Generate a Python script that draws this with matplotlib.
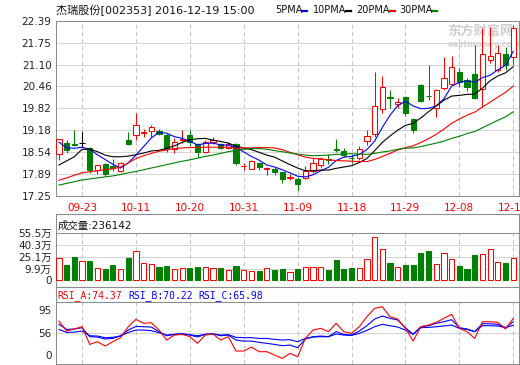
import numpy as np
import matplotlib.pyplot as plt
from matplotlib.lines import Line2D

plt.rcParams['font.family'] = ['DejaVu Sans', 'Noto Sans CJK SC']

# 交易日
dates = ['09-20', '09-21', '09-22', '09-23', '09-26', '09-27', '09-28', '09-29', '09-30',
         '10-10', '10-11', '10-12', '10-13', '10-14', '10-17', '10-18', '10-19', '10-20',
         '10-21', '10-24', '10-25', '10-26', '10-27', '10-28', '10-31', '11-01', '11-02',
         '11-03', '11-04', '11-07', '11-08', '11-09', '11-10', '11-11', '11-14', '11-15',
         '11-16', '11-17', '11-18', '11-21', '11-22', '11-23', '11-24', '11-25', '11-28',
         '11-29', '11-30', '12-01', '12-02', '12-05', '12-06', '12-07', '12-08', '12-09',
         '12-12', '12-13', '12-14', '12-15', '12-16', '12-19']

opens = [18.48, 18.81, 18.77, 18.81, 18.65, 18.01, 18.19, 18.13, 17.99, 18.89,
         19.04, 19.11, 19.16, 19.17, 19.04, 18.63, 18.88, 19.04, 18.77, 18.55,
         18.82, 18.77, 18.66, 18.77, 18.12, 18.05, 18.23, 18.05, 18.03, 17.94,
         17.79, 17.74, 17.79, 17.97, 18.15, 18.34, 18.63, 18.57, 18.37, 18.36,
         18.85, 19.06, 19.79, 20.16, 19.94, 20.16, 19.52, 20.49, 20.19, 19.82,
         20.41, 20.52, 20.88, 20.65, 20.84, 20.40, 21.23, 20.94, 21.40, 21.33]
highs = [18.92, 18.89, 19.18, 19.17, 18.68, 18.17, 18.23, 18.33, 18.26, 19.14,
         19.69, 19.21, 19.32, 19.21, 19.06, 18.94, 19.18, 19.18, 18.80, 18.90,
         18.97, 18.80, 18.82, 18.80, 18.23, 18.30, 18.24, 18.11, 18.09, 17.96,
         17.90, 17.82, 18.13, 18.36, 18.40, 18.47, 18.92, 18.66, 18.49, 18.72,
         19.18, 20.89, 20.76, 20.36, 20.13, 20.18, 19.55, 20.52, 21.09, 20.38,
         21.33, 21.35, 20.99, 20.70, 21.68, 22.18, 22.21, 21.68, 21.63, 22.26]
lows = [18.31, 18.50, 18.72, 18.68, 17.93, 17.89, 17.85, 17.99, 17.96, 18.74,
        18.89, 18.99, 18.97, 19.03, 18.55, 18.52, 18.79, 18.71, 18.40, 18.50,
        18.78, 18.62, 18.62, 18.16, 18.01, 18.03, 18.01, 17.86, 17.88, 17.64,
        17.73, 17.40, 17.74, 17.92, 18.06, 18.19, 18.53, 18.40, 18.21, 18.30,
        18.75, 18.99, 19.68, 19.82, 19.82, 19.60, 19.09, 20.02, 20.07, 19.58,
        20.36, 20.49, 20.46, 20.33, 20.10, 19.87, 21.14, 20.90, 20.94, 21.09]
closes = [18.91, 18.60, 18.75, 18.81, 18.01, 18.15, 17.89, 18.06, 18.22, 18.77,
          19.33, 19.13, 19.28, 19.07, 18.62, 18.84, 18.91, 18.82, 18.55, 18.82,
          18.90, 18.65, 18.78, 18.22, 18.14, 18.28, 18.09, 18.07, 17.94, 17.74,
          17.81, 17.60, 17.98, 18.23, 18.33, 18.32, 18.61, 18.44, 18.35, 18.62,
          19.01, 19.89, 20.44, 20.13, 20.02, 19.68, 19.19, 20.05, 20.17, 20.36,
          20.71, 21.04, 20.60, 20.45, 20.12, 21.40, 21.36, 21.44, 21.09, 22.17]

ma5 = [18.83, 18.66, 18.65, 18.68, 18.62, 18.46, 18.32, 18.18, 18.07, 18.22,
       18.45, 18.70, 18.95, 19.12, 19.09, 18.99, 18.94, 18.85, 18.75, 18.79,
       18.80, 18.75, 18.74, 18.67, 18.54, 18.41, 18.30, 18.16, 18.10, 18.02,
       17.93, 17.83, 17.81, 17.87, 17.99, 18.09, 18.29, 18.39, 18.41, 18.47,
       18.61, 18.86, 19.26, 19.62, 19.90, 20.03, 19.89, 19.81, 19.82, 19.89,
       20.10, 20.47, 20.58, 20.63, 20.58, 20.72, 20.79, 20.95, 21.08, 21.49]
ma10 = [18.16, 18.28, 18.40, 18.62, 18.62, 18.55, 18.45, 18.40, 18.40, 18.42,
        18.46, 18.51, 18.57, 18.59, 18.65, 18.72, 18.82, 18.90, 18.93, 18.94,
        18.89, 18.85, 18.80, 18.71, 18.66, 18.61, 18.53, 18.45, 18.39, 18.28,
        18.17, 18.07, 17.99, 17.99, 18.01, 18.01, 18.06, 18.10, 18.14, 18.23,
        18.35, 18.58, 18.82, 19.01, 19.18, 19.32, 19.38, 19.54, 19.72, 19.89,
        20.06, 20.18, 20.20, 20.23, 20.24, 20.41, 20.63, 20.77, 20.86, 21.04]
ma20 = [17.71, 17.78, 17.86, 17.93, 17.96, 17.99, 18.02, 18.05, 18.10, 18.22,
        18.35, 18.43, 18.50, 18.56, 18.60, 18.64, 18.66, 18.67, 18.67, 18.68,
        18.68, 18.68, 18.68, 18.65, 18.66, 18.66, 18.67, 18.67, 18.66, 18.61,
        18.53, 18.46, 18.39, 18.35, 18.34, 18.31, 18.29, 18.28, 18.27, 18.26,
        18.26, 18.32, 18.41, 18.50, 18.60, 18.67, 18.72, 18.82, 18.93, 19.06,
        19.21, 19.38, 19.51, 19.62, 19.71, 19.86, 20.00, 20.15, 20.29, 20.47]
ma30 = [17.57, 17.62, 17.67, 17.72, 17.75, 17.78, 17.81, 17.84, 17.88, 17.93,
        17.97, 18.02, 18.07, 18.12, 18.17, 18.22, 18.27, 18.31, 18.36, 18.41,
        18.45, 18.50, 18.55, 18.59, 18.62, 18.64, 18.64, 18.62, 18.58, 18.55,
        18.51, 18.48, 18.45, 18.43, 18.44, 18.45, 18.47, 18.48, 18.49, 18.48,
        18.47, 18.50, 18.54, 18.57, 18.62, 18.65, 18.66, 18.70, 18.75, 18.80,
        18.86, 18.94, 19.00, 19.08, 19.14, 19.25, 19.36, 19.47, 19.57, 19.72]

# 成交量 (万)
volume = [23.7, 15.3, 24.9, 20.3, 20.3, 11.2, 10.3, 15.3, 9.9, 23.7,
          32.4, 17.4, 16.6, 13.3, 14.1, 9.9, 11.2, 11.2, 12.4, 12.4,
          11.2, 11.2, 9.1, 14.1, 9.1, 7.8, 7.8, 11.2, 9.1, 9.9,
          7.0, 9.9, 12.4, 13.3, 12.4, 9.1, 21.5, 9.9, 11.2, 11.2,
          22.4, 49.8, 34.9, 17.4, 13.3, 15.3, 15.3, 29.9, 32.7, 16.2,
          29.9, 22.4, 14.1, 9.9, 27.8, 28.6, 34.9, 19.4, 17.4, 23.6]

rsi_a = [71.1, 58.8, 61.3, 64.1, 42.3, 45.6, 40.3, 45.6, 50.6, 64.1,
         73.2, 68.3, 69.1, 60.0, 47.7, 53.8, 54.7, 51.8, 43.6, 53.8,
         55.1, 47.7, 51.8, 34.1, 34.1, 39.0, 33.3, 33.3, 29.2, 25.0,
         31.2, 27.1, 49.7, 60.0, 62.1, 58.0, 68.3, 58.0, 55.9, 64.1,
         76.5, 86.8, 88.8, 76.5, 73.6, 62.1, 46.4, 64.1, 66.2, 69.5,
         74.4, 79.4, 62.1, 58.0, 49.7, 70.3, 70.3, 69.5, 61.3, 74.37]
rsi_b = [67.0, 60.8, 61.3, 62.9, 51.8, 51.4, 48.9, 49.7, 53.0, 60.0,
         64.5, 64.1, 63.7, 58.0, 53.0, 54.7, 55.5, 53.8, 51.4, 54.7,
         55.5, 53.0, 53.8, 47.7, 46.4, 46.4, 44.8, 43.6, 42.3, 40.7,
         41.5, 38.2, 48.9, 51.8, 52.6, 51.8, 58.0, 54.7, 53.8, 58.8,
         65.4, 73.6, 77.3, 74.4, 72.4, 62.9, 54.7, 64.1, 65.4, 68.3,
         70.3, 72.8, 62.9, 61.3, 58.0, 67.8, 67.8, 67.0, 62.9, 70.22]
rsi_c = [60.8, 57.1, 57.5, 58.8, 53.0, 52.6, 50.6, 51.0, 52.6, 57.1,
         60.0, 60.0, 59.2, 56.7, 53.8, 54.7, 55.1, 54.3, 53.0, 54.7,
         55.1, 53.8, 54.3, 51.0, 50.6, 50.6, 49.7, 49.7, 48.5, 47.7,
         48.1, 45.6, 49.7, 51.4, 51.8, 51.8, 55.1, 53.8, 53.4, 55.9,
         59.6, 64.1, 67.0, 65.4, 63.7, 60.0, 54.7, 62.9, 63.3, 64.1,
         65.0, 66.2, 62.1, 60.8, 58.0, 65.4, 65.4, 65.0, 62.9, 65.98]

price_ticks = ['17.25', '17.89', '18.54', '19.18', '19.82', '20.46', '21.10', '21.75', '22.39']
vol_ticks = [9.9, 25.1, 40.3, 55.5]

RED = '#ff0000'
GREEN = '#008000'
BORDER = '#8c8c8c'
GRID = '#d4d4d4'
W, H = 520, 365


def box(x0, y0, x1, y1):
    return [x0 / W, 1 - y1 / H, (x1 - x0) / W, (y1 - y0) / H]


fig = plt.figure(figsize=(W / 100, H / 100), dpi=100)
ax = fig.add_axes(box(55.7, 20.7, 519, 196))
axv = fig.add_axes(box(55.7, 214, 519, 287.3))
axr = fig.add_axes(box(55.7, 287.3, 519, 364.3))

x = np.arange(len(dates))
o = np.array(opens)
c = np.array(closes)
tick_idx = x[3::7]

for a in (ax, axv, axr):
    a.set_xlim(-0.42, 59.75)
    for s in a.spines.values():
        s.set_color(BORDER)
        s.set_linewidth(0.75)
    a.tick_params(length=0, labelsize=7.5, labelcolor='#222222', pad=3)

# ---- K线 ----
cols = np.where(c > o, RED, np.where(c < o, GREEN, '#000000'))
faces = np.where(c > o, 'white', cols)
ax.vlines(x, lows, highs, colors=cols, lw=0.75, zorder=2)
ax.bar(x, np.abs(c - o), bottom=np.minimum(o, c), width=0.68, color=faces,
       edgecolor=cols, linewidth=0.75, zorder=3)
ax.plot(x, ma5, color='#0000ff', lw=0.8, zorder=4)
ax.plot(x, ma10, color='black', lw=0.8, zorder=4)
ax.plot(x, ma20, color=RED, lw=0.8, zorder=4)
ax.plot(x, ma30, color=GREEN, lw=0.8, zorder=4)
ax.set_ylim(17.25, 22.39)
ax.set_yticks(np.linspace(17.25, 22.39, 9), price_ticks)
ax.set_xticks(tick_idx, [dates[i] for i in tick_idx])
ax.tick_params(axis='x', labelcolor=RED, pad=5)
ax.grid(axis='y', color=GRID, lw=0.75, zorder=0)
ax.grid(axis='x', color='#c4c4c4', lw=0.75, ls=(0, (4, 3)), zorder=0)
ax.text(0.845, 0.945, '东方财富网', transform=ax.transAxes, fontsize=9.5,
        fontweight='bold', color='#cfcfcf', ha='left', va='center',
        family=['Noto Sans CJK SC'], zorder=1)
ax.text(0.845, 0.865, 'eastmoney.com', transform=ax.transAxes, fontsize=6,
        fontweight='bold', color='#d4d4d4', ha='left', va='center', zorder=1)

# ---- 成交量 ----
vbase = -3.4
vcols = np.where(c >= o, RED, GREEN)
vfaces = np.where(c >= o, 'white', GREEN)
axv.set_ylim(-12.49, 78.79)
axv.bar(x, np.array(volume) - vbase, bottom=vbase, width=0.68, color=vfaces,
        edgecolor=vcols, linewidth=0.75, zorder=3)
for v in vol_ticks[:-1]:
    axv.axhline(v, color=GRID, lw=0.75, zorder=0)
axv.axhline(vol_ticks[-1], color=BORDER, lw=0.75, zorder=1)
axv.vlines(tick_idx, vbase, vol_ticks[-1], colors='#c4c4c4', lw=0.75,
           linestyles=(0, (4, 3)), zorder=0)
axv.set_yticks([vbase] + vol_ticks, ['0'] + ['%.1f万' % v for v in vol_ticks])
axv.set_xticks([])
axv.text(0.005, 0.845, '成交量:236142', transform=axv.transAxes, fontsize=7.5,
         ha='left', va='center', color='#111111')

# ---- RSI ----
axr.set_ylim(17.74, 112.77)
axr.plot(x, rsi_c, color='#0000ff', lw=0.8, zorder=3)
axr.plot(x, rsi_b, color='#0000ff', lw=0.8, zorder=3)
axr.plot(x, rsi_a, color=RED, lw=0.8, zorder=4)
axr.axhline(56, color=GRID, lw=0.75, zorder=0)
axr.axhline(95, color=BORDER, lw=0.75, zorder=1)
axr.vlines(tick_idx, 17.74, 95, colors='#c4c4c4', lw=0.75,
           linestyles=(0, (4, 3)), zorder=0)
axr.set_yticks([29.2, 56, 84.8], ['0', '56', '95'])
axr.set_xticks([])
hx = 0.003
for name, val, col in [('RSI_A', rsi_a[-1], RED), ('RSI_B', rsi_b[-1], '#0000ff'),
                       ('RSI_C', rsi_c[-1], '#0000ff')]:
    axr.text(hx, 0.895, '%s:%.2f' % (name, val), transform=axr.transAxes,
             fontsize=7, color=col, ha='left', va='center',
             family=['DejaVu Sans Mono'])
    hx += 0.153

# ---- 标题和均线图例 ----
fig.text(56 / W, 1 - 10 / H, '杰瑞股份[002353] 2016-12-19 15:00', fontsize=8,
         ha='left', va='center', color='#111111')
for lab, col, tx, lx in [('5PMA', '#0000ff', 275, 302), ('10PMA', 'black', 313, 346),
                         ('20PMA', RED, 356, 390), ('30PMA', GREEN, 399, 432)]:
    fig.text(tx / W, 1 - 10 / H, lab, fontsize=7, ha='left', va='center',
             color='#111111')
    fig.add_artist(Line2D([lx / W, (lx + 5) / W], [1 - 10.5 / H, 1 - 10.5 / H],
                          transform=fig.transFigure, color=col, lw=1.6))

fig.savefig('out.png', dpi=100)
